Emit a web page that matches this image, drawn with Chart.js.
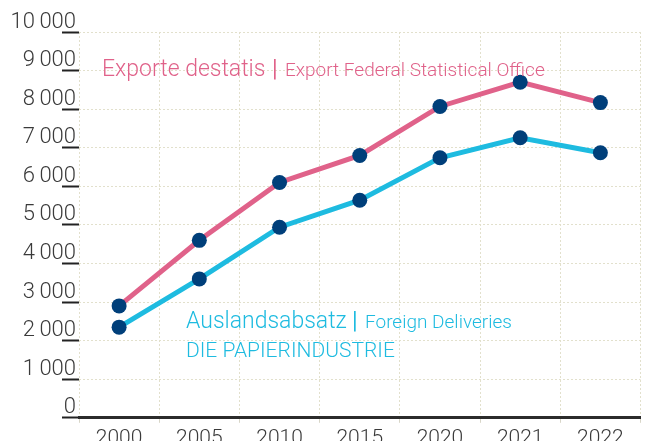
<!DOCTYPE html>
<html>
<head>
<meta charset="utf-8">
<script src="https://cdn.jsdelivr.net/npm/chart.js@4"></script>
<style>
  html, body { margin: 0; padding: 0; background: #fff; overflow: hidden; }
  #wrap { width: 648px; height: 462px; position: relative; }
</style>
</head>
<body>
<div id="wrap"><canvas id="linechart"></canvas></div>
<script>
const years = ['2000', '2005', '2010', '2015', '2020', '2021', '2022'];
const exportDestatis = [2900, 4600, 6100, 6800, 8070, 8700, 8170];
const auslandsabsatz = [2350, 3600, 4940, 5640, 6740, 7260, 6870];

const pink = '#e0628a';
const cyan = '#1ebbe0';
const navy = '#003f7a';
const fontFamily = 'Roboto, "DejaVu Sans Condensed", sans-serif';

function fmt(v) {
  if (v < 1000) return String(v);
  const th = Math.floor(v / 1000);
  return th + '\u2009' + String(v % 1000).padStart(3, '0');
}

// captions drawn inside the plot
const captions = {
  id: 'captions',
  afterDraw(chart) {
    const c = chart.ctx;
    c.save();
    c.textBaseline = 'alphabetic';
    c.fillStyle = pink;
    c.font = '300 23px ' + fontFamily;
    c.fillText('Exporte destatis', 102, 76);
    c.font = '400 23px ' + fontFamily;
    c.fillText('|', 272, 76);
    c.font = '300 19px ' + fontFamily;
    c.fillText('Export Federal Statistical Office', 285, 76);

    c.fillStyle = cyan;
    c.font = '300 23px ' + fontFamily;
    c.fillText('Auslandsabsatz', 186, 328);
    c.font = '400 23px ' + fontFamily;
    c.fillText('|', 352, 328);
    c.font = '300 19px ' + fontFamily;
    c.fillText('Foreign Deliveries', 365, 328);
    c.font = '300 21px ' + fontFamily;
    c.fillText('DIE PAPIERINDUSTRIE', 186, 357);
    c.restore();
  }
};

const ctx = document.getElementById('linechart');

new Chart(ctx, {
  type: 'line',
  data: {
    labels: years,
    datasets: [{
      label: 'Exporte destatis',
      data: exportDestatis,
      borderColor: pink,
      borderWidth: 5,
      pointRadius: 7.5,
      pointHoverRadius: 7.5,
      pointBackgroundColor: navy,
      pointBorderWidth: 0,
      tension: 0
    }, {
      label: 'Auslandsabsatz',
      data: auslandsabsatz,
      borderColor: cyan,
      borderWidth: 5,
      pointRadius: 7.5,
      pointHoverRadius: 7.5,
      pointBackgroundColor: navy,
      pointBorderWidth: 0,
      tension: 0
    }]
  },
  options: {
    responsive: true,
    maintainAspectRatio: false,
    animation: false,
    layout: { padding: { top: 32, right: 2, bottom: 8, left: 0 } },
    plugins: { legend: { display: false }, tooltip: { enabled: false } },
    scales: {
      x: {
        offset: true,
        grid: { offset: true, color: '#e2e0cc', lineWidth: 1, tickLength: 5, tickColor: '#d8d6c8' },
        border: { display: true, color: '#2b2b2b', width: 3, dash: [2, 2] },
        ticks: { color: '#3a3a3a', padding: 3, font: { family: fontFamily, size: 21, weight: 300 } }
      },
      y: {
        min: 0,
        max: 10000,
        afterFit: s => { s.width = 79; },
        grid: { color: '#e2e0cc', lineWidth: 1, tickLength: 17, tickColor: '#222', tickWidth: 2 },
        border: { display: false, dash: [2, 2] },
        ticks: {
          stepSize: 1000,
          color: '#3a3a3a',
          padding: -14,
          labelOffset: -10,
          font: { family: fontFamily, size: 22, weight: 300 },
          callback: v => fmt(v)
        }
      }
    }
  },
  plugins: [captions]
});
</script>
</body>
</html>
